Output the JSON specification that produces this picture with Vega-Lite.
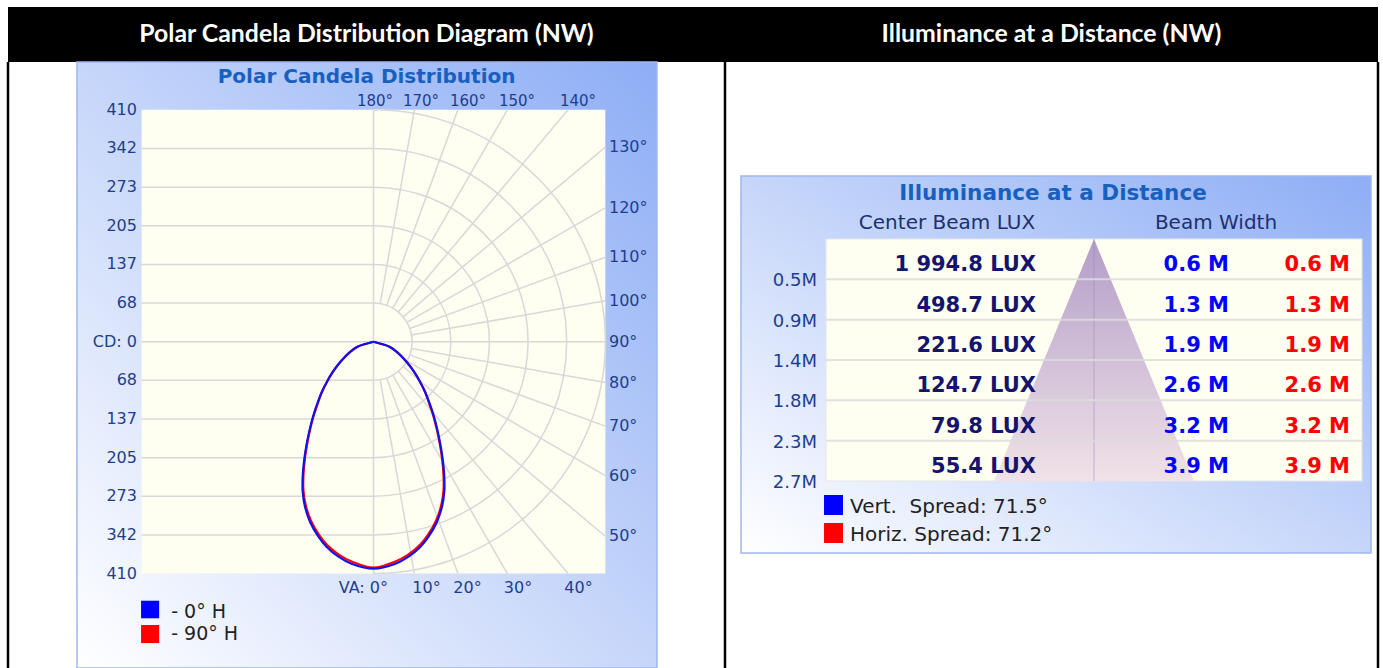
{
"$schema": "https://vega.github.io/schema/vega-lite/v6.json",
"padding": {"left": 6, "top": 7, "right": 4, "bottom": 0},
"spacing": 0,
"bounds": "flush",
"columns": 2,
"config": {"view": {"stroke": null}, "concat": {"spacing": 0}, "text": {"font": "DejaVu Sans"}},
"concat": [
  {"width": 717, "height": 55, "view": {"fill": "#000000", "stroke": null},
   "data": {"values": [{"h": "Polar Candela Distribution Diagram (NW)"}]},
   "mark": {"type": "text", "color": "#ffffff", "font": "Lato", "fontWeight": "bold", "fontSize": 24.8},
   "encoding": {"text": {"field": "h"}}},
  {"width": 653, "height": 55, "view": {"fill": "#000000", "stroke": null},
   "data": {"values": [{"h": "Illuminance at a Distance (NW)"}]},
   "mark": {"type": "text", "color": "#ffffff", "font": "Lato", "fontWeight": "bold", "fontSize": 24.8},
   "encoding": {"text": {"field": "h"}}},
 {"width": 717, "height": 606,
  "data": {"values": [{"k": 1}]},
  "layer": [
   {"mark": {"type": "rect", "fill": {"gradient": "linear", "x1": 0, "y1": 1, "x2": 1, "y2": 0, "stops": [{"offset": 0, "color": "#ffffff"}, {"offset": 1, "color": "#8dadf5"}]}, "stroke": "#9fb8ee", "strokeWidth": 1.5},
    "encoding": {"x": {"datum": -524.3, "type": "quantitative", "scale": {"domain": [-646.3, 621.6], "nice": false, "zero": false}, "axis": null}, "x2": {"datum": 501.3},
                 "y": {"datum": 494.6, "type": "quantitative", "scale": {"domain": [-577.0, 494.6], "nice": false, "zero": false}, "axis": null}, "y2": {"datum": -577.0}}},
   {"mark": {"type": "rect", "fill": "#fefef1"},
    "encoding": {"x": {"datum": -410, "type": "quantitative", "scale": {"domain": [-646.3, 621.6], "nice": false, "zero": false}, "axis": null}, "x2": {"datum": 410},
                 "y": {"datum": -410, "type": "quantitative", "scale": {"domain": [-577.0, 494.6], "nice": false, "zero": false}, "axis": null}, "y2": {"datum": 410}}},
   {"data": {"values": [{"v": 341.67}, {"v": 273.33}, {"v": 205}, {"v": 136.67}, {"v": 68.33}, {"v": -68.33}, {"v": -136.67}, {"v": -205}, {"v": -273.33}, {"v": -341.67}]},
    "mark": {"type": "rule", "color": "#d8d8d8", "strokeWidth": 1.5},
    "encoding": {"x": {"datum": -410, "type": "quantitative", "scale": {"domain": [-646.3, 621.6], "nice": false, "zero": false}, "axis": null}, "x2": {"datum": 0},
                 "y": {"field": "v", "type": "quantitative", "scale": {"domain": [-577.0, 494.6], "nice": false, "zero": false}, "axis": null}}},
   {"mark": {"type": "rule", "color": "#d8d8d8", "strokeWidth": 1.5},
    "encoding": {"x": {"datum": -410, "type": "quantitative", "scale": {"domain": [-646.3, 621.6], "nice": false, "zero": false}, "axis": null}, "x2": {"datum": 410},
                 "y": {"datum": 0, "type": "quantitative", "scale": {"domain": [-577.0, 494.6], "nice": false, "zero": false}, "axis": null}}},
   {"mark": {"type": "rule", "color": "#d8d8d8", "strokeWidth": 1.5},
    "encoding": {"x": {"datum": 0, "type": "quantitative", "scale": {"domain": [-646.3, 621.6], "nice": false, "zero": false}, "axis": null},
                 "y": {"datum": -410, "type": "quantitative", "scale": {"domain": [-577.0, 494.6], "nice": false, "zero": false}, "axis": null}, "y2": {"datum": 410}}},
   {"data": {"values": [{"r": 68.33}, {"r": 136.67}, {"r": 205}, {"r": 273.33}, {"r": 341.67}, {"r": 410}]},
    "mark": {"type": "arc", "filled": false, "color": "#d8d8d8", "strokeWidth": 1.5},
    "encoding": {"x": {"datum": 0, "type": "quantitative", "scale": {"domain": [-646.3, 621.6], "nice": false, "zero": false}, "axis": null},
                 "y": {"datum": 0, "type": "quantitative", "scale": {"domain": [-577.0, 494.6], "nice": false, "zero": false}, "axis": null},
                 "theta": {"datum": 0, "type": "quantitative", "stack": false, "scale": {"type": "linear", "domain": [0, 360], "range": [0, 6.283185307]}},
                 "theta2": {"datum": 180},
                 "radius": {"field": "r", "type": "quantitative", "scale": {"type": "linear", "domain": [0, 410], "range": [0, 231.86], "zero": true, "nice": false}},
                 "radius2": {"field": "r"}}},
   {"data": {"values": [{"t": 10, "r1": 68.33, "r2": 416.3}, {"t": 20, "r1": 68.33, "r2": 436.3}, {"t": 30, "r1": 68.33, "r2": 473.4}, {"t": 40, "r1": 68.33, "r2": 535.2}, {"t": 50, "r1": 68.33, "r2": 535.2}, {"t": 60, "r1": 68.33, "r2": 473.4}, {"t": 70, "r1": 68.33, "r2": 436.3}, {"t": 80, "r1": 68.33, "r2": 416.3}, {"t": 100, "r1": 68.33, "r2": 416.3}, {"t": 110, "r1": 68.33, "r2": 436.3}, {"t": 120, "r1": 68.33, "r2": 473.4}, {"t": 130, "r1": 68.33, "r2": 535.2}, {"t": 140, "r1": 68.33, "r2": 535.2}, {"t": 150, "r1": 68.33, "r2": 473.4}, {"t": 160, "r1": 68.33, "r2": 436.3}, {"t": 170, "r1": 68.33, "r2": 416.3}]},
    "mark": {"type": "arc", "filled": false, "color": "#d8d8d8", "strokeWidth": 1.5},
    "encoding": {"x": {"datum": 0, "type": "quantitative", "scale": {"domain": [-646.3, 621.6], "nice": false, "zero": false}, "axis": null},
                 "y": {"datum": 0, "type": "quantitative", "scale": {"domain": [-577.0, 494.6], "nice": false, "zero": false}, "axis": null},
                 "theta": {"field": "t", "type": "quantitative", "stack": false, "scale": {"type": "linear", "domain": [0, 360], "range": [0, 6.283185307]}},
                 "theta2": {"field": "t"},
                 "radius": {"field": "r1", "type": "quantitative", "scale": {"type": "linear", "domain": [0, 410], "range": [0, 231.86], "zero": true, "nice": false}},
                 "radius2": {"field": "r2"}}},
   {"data": {"values": [
     {"a": -90, "cd": 0, "x": 0, "y": 0}, {"a": -72.7, "cd": 29.6, "x": -28.3, "y": -8.8}, {"a": -66.5, "cd": 44.4, "x": -40.7, "y": -17.7}, {"a": -58.8, "cd": 68.3, "x": -58.4, "y": -35.4}, {"a": -53.5, "cd": 89.1, "x": -71.6, "y": -53.0}, {"a": -49.3, "cd": 108.4, "x": -82.2, "y": -70.7}, {"a": -45.9, "cd": 126.9, "x": -91.1, "y": -88.4},
     {"a": -42.8, "cd": 143.1, "x": -97.1, "y": -105.0}, {"a": -38.9, "cd": 168.7, "x": -105.9, "y": -131.3}, {"a": -35.6, "cd": 193.6, "x": -112.6, "y": -157.5}, {"a": -32.7, "cd": 218.4, "x": -117.8, "y": -183.8}, {"a": -30.1, "cd": 242.7, "x": -121.7, "y": -210.1}, {"a": -27.7, "cd": 266.8, "x": -123.9, "y": -236.3}, {"a": -25.3, "cd": 290.4, "x": -123.9, "y": -262.5}, {"a": -22.5, "cd": 312.7, "x": -119.9, "y": -288.9}, {"a": -19.4, "cd": 334.1, "x": -111.2, "y": -315.1}, {"a": -15.8, "cd": 354.7, "x": -96.3, "y": -341.4}, {"a": -12.9, "cd": 368.2, "x": -82.3, "y": -358.9}, {"a": -9.2, "cd": 381.3, "x": -61.3, "y": -376.4}, {"a": -5.7, "cd": 390.6, "x": -38.5, "y": -388.7},
     {"a": 0, "cd": 399.4, "x": 0, "y": -399.4},
     {"a": 5.7, "cd": 390.6, "x": 38.5, "y": -388.7}, {"a": 9.2, "cd": 381.3, "x": 61.3, "y": -376.4}, {"a": 12.9, "cd": 368.2, "x": 82.3, "y": -358.9}, {"a": 15.8, "cd": 354.7, "x": 96.3, "y": -341.4}, {"a": 19.4, "cd": 334.1, "x": 111.2, "y": -315.1}, {"a": 22.5, "cd": 312.7, "x": 119.9, "y": -288.9}, {"a": 25.3, "cd": 290.4, "x": 123.9, "y": -262.5}, {"a": 27.7, "cd": 266.8, "x": 123.9, "y": -236.3}, {"a": 30.1, "cd": 242.7, "x": 121.7, "y": -210.1}, {"a": 32.7, "cd": 218.4, "x": 117.8, "y": -183.8}, {"a": 35.6, "cd": 193.6, "x": 112.6, "y": -157.5}, {"a": 38.9, "cd": 168.7, "x": 105.9, "y": -131.3}, {"a": 42.8, "cd": 143.1, "x": 97.1, "y": -105.0},
     {"a": 45.9, "cd": 126.9, "x": 91.1, "y": -88.4}, {"a": 49.3, "cd": 108.4, "x": 82.2, "y": -70.7}, {"a": 53.5, "cd": 89.1, "x": 71.6, "y": -53.0}, {"a": 58.8, "cd": 68.3, "x": 58.4, "y": -35.4}, {"a": 66.5, "cd": 44.4, "x": 40.7, "y": -17.7}, {"a": 72.7, "cd": 29.6, "x": 28.3, "y": -8.8}, {"a": 90, "cd": 0, "x": 0, "y": 0}]},
    "mark": {"type": "line", "color": "#ff0000", "strokeWidth": 2.2, "interpolate": "catmull-rom"},
    "encoding": {"x": {"field": "x", "type": "quantitative", "scale": {"domain": [-646.3, 621.6], "nice": false, "zero": false}, "axis": null},
                 "y": {"field": "y", "type": "quantitative", "scale": {"domain": [-577.0, 494.6], "nice": false, "zero": false}, "axis": null},
                 "order": {"field": "a", "type": "quantitative"}}},
   {"data": {"values": [
     {"a": -90, "cd": 0, "x": 0, "y": 0}, {"a": -72.7, "cd": 29.6, "x": -28.3, "y": -8.8}, {"a": -66.5, "cd": 44.4, "x": -40.7, "y": -17.7}, {"a": -58.8, "cd": 68.3, "x": -58.4, "y": -35.4}, {"a": -53.5, "cd": 89.1, "x": -71.6, "y": -53.0}, {"a": -49.3, "cd": 108.4, "x": -82.2, "y": -70.7}, {"a": -45.9, "cd": 126.9, "x": -91.1, "y": -88.4},
     {"a": -42.8, "cd": 144.5, "x": -98.1, "y": -106.1}, {"a": -38.9, "cd": 170.4, "x": -107.0, "y": -132.6}, {"a": -35.6, "cd": 195.6, "x": -113.7, "y": -159.1}, {"a": -32.7, "cd": 220.6, "x": -119.0, "y": -185.7}, {"a": -30.1, "cd": 245.2, "x": -122.9, "y": -212.2}, {"a": -27.7, "cd": 269.5, "x": -125.2, "y": -238.7}, {"a": -25.3, "cd": 293.3, "x": -125.2, "y": -265.2}, {"a": -22.5, "cd": 315.9, "x": -121.1, "y": -291.8}, {"a": -19.4, "cd": 337.5, "x": -112.3, "y": -318.3}, {"a": -15.8, "cd": 358.3, "x": -97.3, "y": -344.8}, {"a": -12.9, "cd": 371.9, "x": -83.1, "y": -362.5}, {"a": -9.2, "cd": 385.2, "x": -61.9, "y": -380.2}, {"a": -5.7, "cd": 394.5, "x": -38.9, "y": -392.6},
     {"a": 0, "cd": 401.4, "x": 0, "y": -401.4},
     {"a": 5.7, "cd": 394.5, "x": 38.9, "y": -392.6}, {"a": 9.2, "cd": 385.2, "x": 61.9, "y": -380.2}, {"a": 12.9, "cd": 371.9, "x": 83.1, "y": -362.5}, {"a": 15.8, "cd": 358.3, "x": 97.3, "y": -344.8}, {"a": 19.4, "cd": 337.5, "x": 112.3, "y": -318.3}, {"a": 22.5, "cd": 315.9, "x": 121.1, "y": -291.8}, {"a": 25.3, "cd": 293.3, "x": 125.2, "y": -265.2}, {"a": 27.7, "cd": 269.5, "x": 125.2, "y": -238.7}, {"a": 30.1, "cd": 245.2, "x": 122.9, "y": -212.2}, {"a": 32.7, "cd": 220.6, "x": 119.0, "y": -185.7}, {"a": 35.6, "cd": 195.6, "x": 113.7, "y": -159.1}, {"a": 38.9, "cd": 170.4, "x": 107.0, "y": -132.6}, {"a": 42.8, "cd": 144.5, "x": 98.1, "y": -106.1},
     {"a": 45.9, "cd": 126.9, "x": 91.1, "y": -88.4}, {"a": 49.3, "cd": 108.4, "x": 82.2, "y": -70.7}, {"a": 53.5, "cd": 89.1, "x": 71.6, "y": -53.0}, {"a": 58.8, "cd": 68.3, "x": 58.4, "y": -35.4}, {"a": 66.5, "cd": 44.4, "x": 40.7, "y": -17.7}, {"a": 72.7, "cd": 29.6, "x": 28.3, "y": -8.8}, {"a": 90, "cd": 0, "x": 0, "y": 0}]},
    "mark": {"type": "line", "color": "#1010f0", "strokeWidth": 2.2, "interpolate": "catmull-rom"},
    "encoding": {"x": {"field": "x", "type": "quantitative", "scale": {"domain": [-646.3, 621.6], "nice": false, "zero": false}, "axis": null},
                 "y": {"field": "y", "type": "quantitative", "scale": {"domain": [-577.0, 494.6], "nice": false, "zero": false}, "axis": null},
                 "order": {"field": "a", "type": "quantitative"}}},
   {"data": {"values": [{"v": 410, "lab": "410"}, {"v": 341.67, "lab": "342"}, {"v": 273.33, "lab": "273"}, {"v": 205, "lab": "205"}, {"v": 136.67, "lab": "137"}, {"v": 68.33, "lab": "68"}, {"v": 0, "lab": "CD: 0"}, {"v": -68.33, "lab": "68"}, {"v": -136.67, "lab": "137"}, {"v": -205, "lab": "205"}, {"v": -273.33, "lab": "273"}, {"v": -341.67, "lab": "342"}, {"v": -410, "lab": "410"}]},
    "mark": {"type": "text", "align": "right", "baseline": "middle", "fontSize": 16, "color": "#1f3d8f"},
    "encoding": {"x": {"datum": -418.2, "type": "quantitative", "scale": {"domain": [-646.3, 621.6], "nice": false, "zero": false}, "axis": null},
                 "y": {"field": "v", "type": "quantitative", "scale": {"domain": [-577.0, 494.6], "nice": false, "zero": false}, "axis": null},
                 "text": {"field": "lab"}}},
   {"data": {"values": [{"va": 180, "lab": "180°", "lx": 2.7}, {"va": 170, "lab": "170°", "lx": 84.0}, {"va": 160, "lab": "160°", "lx": 167.1}, {"va": 150, "lab": "150°", "lx": 253.8}, {"va": 140, "lab": "140°", "lx": 361.6}]},
    "mark": {"type": "text", "align": "center", "baseline": "middle", "fontSize": 15, "color": "#1f3d8f"},
    "encoding": {"x": {"field": "lx", "type": "quantitative", "scale": {"domain": [-646.3, 621.6], "nice": false, "zero": false}, "axis": null},
                 "y": {"datum": 426.5, "type": "quantitative", "scale": {"domain": [-577.0, 494.6], "nice": false, "zero": false}, "axis": null},
                 "text": {"field": "lab"}}},
   {"data": {"values": [{"va": 130, "lab": "130°", "ly": 344.0}, {"va": 120, "lab": "120°", "ly": 236.7}, {"va": 110, "lab": "110°", "ly": 149.2}, {"va": 100, "lab": "100°", "ly": 72.3}, {"va": 90, "lab": "90°", "ly": 0}, {"va": 80, "lab": "80°", "ly": -72.3}, {"va": 70, "lab": "70°", "ly": -149.2}, {"va": 60, "lab": "60°", "ly": -236.7}, {"va": 50, "lab": "50°", "ly": -344.0}]},
    "mark": {"type": "text", "align": "left", "baseline": "middle", "fontSize": 16, "color": "#1f3d8f"},
    "encoding": {"x": {"datum": 416.4, "type": "quantitative", "scale": {"domain": [-646.3, 621.6], "nice": false, "zero": false}, "axis": null},
                 "y": {"field": "ly", "type": "quantitative", "scale": {"domain": [-577.0, 494.6], "nice": false, "zero": false}, "axis": null},
                 "text": {"field": "lab"}}},
   {"data": {"values": [{"va": 10, "lab": "10°", "lx": 93.7}, {"va": 20, "lab": "20°", "lx": 166.2}, {"va": 30, "lab": "30°", "lx": 255.5}, {"va": 40, "lab": "40°", "lx": 362.5}]},
    "mark": {"type": "text", "align": "center", "baseline": "middle", "fontSize": 16, "color": "#1f3d8f"},
    "encoding": {"x": {"field": "lx", "type": "quantitative", "scale": {"domain": [-646.3, 621.6], "nice": false, "zero": false}, "axis": null},
                 "y": {"datum": -436.1, "type": "quantitative", "scale": {"domain": [-577.0, 494.6], "nice": false, "zero": false}, "axis": null},
                 "text": {"field": "lab"}}},
   {"mark": {"type": "text", "align": "right", "baseline": "middle", "fontSize": 16, "color": "#1f3d8f", "text": "VA: 0°"},
    "encoding": {"x": {"datum": 25.6, "type": "quantitative", "scale": {"domain": [-646.3, 621.6], "nice": false, "zero": false}, "axis": null},
                 "y": {"datum": -436.1, "type": "quantitative", "scale": {"domain": [-577.0, 494.6], "nice": false, "zero": false}, "axis": null}}},
   {"mark": {"type": "text", "align": "center", "baseline": "middle", "fontSize": 20, "fontWeight": "bold", "color": "#1760c0", "text": "Polar Candela Distribution"},
    "encoding": {"x": {"datum": -12.2, "type": "quantitative", "scale": {"domain": [-646.3, 621.6], "nice": false, "zero": false}, "axis": null},
                 "y": {"datum": 468.6, "type": "quantitative", "scale": {"domain": [-577.0, 494.6], "nice": false, "zero": false}, "axis": null}}},
   {"mark": {"type": "rect", "fill": "#0000ff"},
    "encoding": {"x": {"datum": -411.0, "type": "quantitative", "scale": {"domain": [-646.3, 621.6], "nice": false, "zero": false}, "axis": null}, "x2": {"datum": -379.0},
                 "y": {"datum": -458.0, "type": "quantitative", "scale": {"domain": [-577.0, 494.6], "nice": false, "zero": false}, "axis": null}, "y2": {"datum": -489.1}}},
   {"mark": {"type": "rect", "fill": "#ff0000"},
    "encoding": {"x": {"datum": -411.0, "type": "quantitative", "scale": {"domain": [-646.3, 621.6], "nice": false, "zero": false}, "axis": null}, "x2": {"datum": -379.0},
                 "y": {"datum": -501.0, "type": "quantitative", "scale": {"domain": [-577.0, 494.6], "nice": false, "zero": false}, "axis": null}, "y2": {"datum": -532.9}}},
   {"mark": {"type": "text", "align": "left", "baseline": "middle", "fontSize": 19, "color": "#222222", "text": "- 0° H"},
    "encoding": {"x": {"datum": -357.7, "type": "quantitative", "scale": {"domain": [-646.3, 621.6], "nice": false, "zero": false}, "axis": null},
                 "y": {"datum": -477.5, "type": "quantitative", "scale": {"domain": [-577.0, 494.6], "nice": false, "zero": false}, "axis": null}}},
   {"mark": {"type": "text", "align": "left", "baseline": "middle", "fontSize": 19, "color": "#222222", "text": "- 90° H"},
    "encoding": {"x": {"datum": -357.7, "type": "quantitative", "scale": {"domain": [-646.3, 621.6], "nice": false, "zero": false}, "axis": null},
                 "y": {"datum": -516.9, "type": "quantitative", "scale": {"domain": [-577.0, 494.6], "nice": false, "zero": false}, "axis": null}}},
   {"data": {"values": [{"edge": -646.3}, {"edge": 621.6}]},
    "mark": {"type": "rule", "color": "#000000", "strokeWidth": 2.5},
    "encoding": {"x": {"field": "edge", "type": "quantitative", "scale": {"domain": [-646.3, 621.6], "nice": false, "zero": false}, "axis": null},
                 "y": {"datum": -577.0, "type": "quantitative", "scale": {"domain": [-577.0, 494.6], "nice": false, "zero": false}, "axis": null}, "y2": {"datum": 494.6}}}
  ]},
 {"width": 653, "height": 606,
  "data": {"values": [{"k": 1}]},
  "layer": [
   {"mark": {"type": "rect", "fill": {"gradient": "linear", "x1": 0, "y1": 1, "x2": 1, "y2": 0, "stops": [{"offset": 0, "color": "#ffffff"}, {"offset": 1, "color": "#8dadf5"}]}, "stroke": "#9fb8ee", "strokeWidth": 1.5},
    "encoding": {"x": {"datum": -6.884, "type": "quantitative", "scale": {"domain": [-7.196, 5.538], "nice": false, "zero": false}, "axis": null}, "x2": {"datum": 5.402},
                 "y": {"datum": -0.703, "type": "quantitative", "scale": {"domain": [-1.9748, 4.7863], "nice": false, "zero": false, "reverse": true}, "axis": null}, "y2": {"datum": 3.503}}},
   {"mark": {"type": "rect", "fill": "#fefef1", "stroke": "#e6e6e6", "strokeWidth": 1},
    "encoding": {"x": {"datum": -5.226, "type": "quantitative", "scale": {"domain": [-7.196, 5.538], "nice": false, "zero": false}, "axis": null}, "x2": {"datum": 5.226},
                 "y": {"datum": 0, "type": "quantitative", "scale": {"domain": [-1.9748, 4.7863], "nice": false, "zero": false, "reverse": true}, "axis": null}, "y2": {"datum": 2.7}}},
   {"data": {"values": [{"d": 0, "lo": 0, "hi": 0}, {"d": 2.7, "lo": -1.95, "hi": 1.95}]},
    "mark": {"type": "area", "orient": "horizontal", "fill": {"gradient": "linear", "x1": 0, "y1": 0, "x2": 0, "y2": 1, "stops": [{"offset": 0, "color": "#b39ec8"}, {"offset": 1, "color": "#f0e2e8"}]}},
    "encoding": {"y": {"field": "d", "type": "quantitative", "scale": {"domain": [-1.9748, 4.7863], "nice": false, "zero": false, "reverse": true}, "axis": null},
                 "x": {"field": "lo", "type": "quantitative", "scale": {"domain": [-7.196, 5.538], "nice": false, "zero": false}, "axis": null},
                 "x2": {"field": "hi"}}},
   {"mark": {"type": "rule", "color": "#9a86ad", "opacity": 0.5, "strokeWidth": 1},
    "encoding": {"x": {"datum": 0, "type": "quantitative", "scale": {"domain": [-7.196, 5.538], "nice": false, "zero": false}, "axis": null},
                 "y": {"datum": 0, "type": "quantitative", "scale": {"domain": [-1.9748, 4.7863], "nice": false, "zero": false, "reverse": true}, "axis": null}, "y2": {"datum": 2.7}}},
   {"data": {"values": [{"d": 0.45}, {"d": 0.9}, {"d": 1.35}, {"d": 1.8}, {"d": 2.25}]},
    "mark": {"type": "rule", "color": "#dcdcdc", "opacity": 0.85, "strokeWidth": 2},
    "encoding": {"x": {"datum": -5.226, "type": "quantitative", "scale": {"domain": [-7.196, 5.538], "nice": false, "zero": false}, "axis": null}, "x2": {"datum": 5.226},
                 "y": {"field": "d", "type": "quantitative", "scale": {"domain": [-1.9748, 4.7863], "nice": false, "zero": false, "reverse": true}, "axis": null}}},
   {"data": {"name": "rows", "values": [
     {"d": 0.45, "dist": "0.5M", "lux": "1 994.8 LUX", "vw": "0.6 M", "hw": "0.6 M"},
     {"d": 0.9, "dist": "0.9M", "lux": "498.7 LUX", "vw": "1.3 M", "hw": "1.3 M"},
     {"d": 1.35, "dist": "1.4M", "lux": "221.6 LUX", "vw": "1.9 M", "hw": "1.9 M"},
     {"d": 1.8, "dist": "1.8M", "lux": "124.7 LUX", "vw": "2.6 M", "hw": "2.6 M"},
     {"d": 2.25, "dist": "2.3M", "lux": "79.8 LUX", "vw": "3.2 M", "hw": "3.2 M"},
     {"d": 2.7, "dist": "2.7M", "lux": "55.4 LUX", "vw": "3.9 M", "hw": "3.9 M"}]},
    "mark": {"type": "text", "align": "right", "baseline": "middle", "fontSize": 21, "fontWeight": "bold", "color": "#14146e", "dy": -14},
    "encoding": {"x": {"datum": -1.131, "type": "quantitative", "scale": {"domain": [-7.196, 5.538], "nice": false, "zero": false}, "axis": null},
                 "y": {"field": "d", "type": "quantitative", "scale": {"domain": [-1.9748, 4.7863], "nice": false, "zero": false, "reverse": true}, "axis": null},
                 "text": {"field": "lux"}}},
   {"data": {"name": "rows"},
    "mark": {"type": "text", "align": "right", "baseline": "middle", "fontSize": 21, "fontWeight": "bold", "color": "#0000ff", "dy": -14},
    "encoding": {"x": {"datum": 2.633, "type": "quantitative", "scale": {"domain": [-7.196, 5.538], "nice": false, "zero": false}, "axis": null},
                 "y": {"field": "d", "type": "quantitative", "scale": {"domain": [-1.9748, 4.7863], "nice": false, "zero": false, "reverse": true}, "axis": null},
                 "text": {"field": "vw"}}},
   {"data": {"name": "rows"},
    "mark": {"type": "text", "align": "right", "baseline": "middle", "fontSize": 21, "fontWeight": "bold", "color": "#ff0000", "dy": -14},
    "encoding": {"x": {"datum": 4.992, "type": "quantitative", "scale": {"domain": [-7.196, 5.538], "nice": false, "zero": false}, "axis": null},
                 "y": {"field": "d", "type": "quantitative", "scale": {"domain": [-1.9748, 4.7863], "nice": false, "zero": false, "reverse": true}, "axis": null},
                 "text": {"field": "hw"}}},
   {"data": {"name": "rows"},
    "mark": {"type": "text", "align": "right", "baseline": "middle", "fontSize": 18, "color": "#1f3d8f", "dy": 2},
    "encoding": {"x": {"datum": -5.402, "type": "quantitative", "scale": {"domain": [-7.196, 5.538], "nice": false, "zero": false}, "axis": null},
                 "y": {"field": "d", "type": "quantitative", "scale": {"domain": [-1.9748, 4.7863], "nice": false, "zero": false, "reverse": true}, "axis": null},
                 "text": {"field": "dist"}}},
   {"mark": {"type": "text", "align": "center", "baseline": "middle", "fontSize": 21.5, "fontWeight": "bold", "color": "#1760c0", "text": "Illuminance at a Distance"},
    "encoding": {"x": {"datum": -0.8, "type": "quantitative", "scale": {"domain": [-7.196, 5.538], "nice": false, "zero": false}, "axis": null},
                 "y": {"datum": -0.502, "type": "quantitative", "scale": {"domain": [-1.9748, 4.7863], "nice": false, "zero": false, "reverse": true}, "axis": null}}},
   {"mark": {"type": "text", "align": "center", "baseline": "middle", "fontSize": 20, "color": "#20306e", "text": "Center Beam LUX"},
    "encoding": {"x": {"datum": -2.867, "type": "quantitative", "scale": {"domain": [-7.196, 5.538], "nice": false, "zero": false}, "axis": null},
                 "y": {"datum": -0.179, "type": "quantitative", "scale": {"domain": [-1.9748, 4.7863], "nice": false, "zero": false, "reverse": true}, "axis": null}}},
   {"mark": {"type": "text", "align": "center", "baseline": "middle", "fontSize": 20, "color": "#20306e", "text": "Beam Width"},
    "encoding": {"x": {"datum": 2.379, "type": "quantitative", "scale": {"domain": [-7.196, 5.538], "nice": false, "zero": false}, "axis": null},
                 "y": {"datum": -0.179, "type": "quantitative", "scale": {"domain": [-1.9748, 4.7863], "nice": false, "zero": false, "reverse": true}, "axis": null}}},
   {"mark": {"type": "rect", "fill": "#0000ff"},
    "encoding": {"x": {"datum": -5.265, "type": "quantitative", "scale": {"domain": [-7.196, 5.538], "nice": false, "zero": false}, "axis": null}, "x2": {"datum": -4.895},
                 "y": {"datum": 2.856, "type": "quantitative", "scale": {"domain": [-1.9748, 4.7863], "nice": false, "zero": false, "reverse": true}, "axis": null}, "y2": {"datum": 3.079}}},
   {"mark": {"type": "rect", "fill": "#ff0000"},
    "encoding": {"x": {"datum": -5.265, "type": "quantitative", "scale": {"domain": [-7.196, 5.538], "nice": false, "zero": false}, "axis": null}, "x2": {"datum": -4.895},
                 "y": {"datum": 3.169, "type": "quantitative", "scale": {"domain": [-1.9748, 4.7863], "nice": false, "zero": false, "reverse": true}, "axis": null}, "y2": {"datum": 3.392}}},
   {"mark": {"type": "text", "align": "left", "baseline": "middle", "fontSize": 20, "color": "#222222", "text": "Vert.\u00a0 Spread: 71.5°"},
    "encoding": {"x": {"datum": -4.758, "type": "quantitative", "scale": {"domain": [-7.196, 5.538], "nice": false, "zero": false}, "axis": null},
                 "y": {"datum": 2.987, "type": "quantitative", "scale": {"domain": [-1.9748, 4.7863], "nice": false, "zero": false, "reverse": true}, "axis": null}}},
   {"mark": {"type": "text", "align": "left", "baseline": "middle", "fontSize": 20, "color": "#222222", "text": "Horiz. Spread: 71.2°"},
    "encoding": {"x": {"datum": -4.758, "type": "quantitative", "scale": {"domain": [-7.196, 5.538], "nice": false, "zero": false}, "axis": null},
                 "y": {"datum": 3.303, "type": "quantitative", "scale": {"domain": [-1.9748, 4.7863], "nice": false, "zero": false, "reverse": true}, "axis": null}}},
   {"mark": {"type": "rule", "color": "#000000", "strokeWidth": 2.5},
    "encoding": {"x": {"datum": 5.538, "type": "quantitative", "scale": {"domain": [-7.196, 5.538], "nice": false, "zero": false}, "axis": null},
                 "y": {"datum": -1.9748, "type": "quantitative", "scale": {"domain": [-1.9748, 4.7863], "nice": false, "zero": false, "reverse": true}, "axis": null}, "y2": {"datum": 4.7863}}}
  ]}
]
}
